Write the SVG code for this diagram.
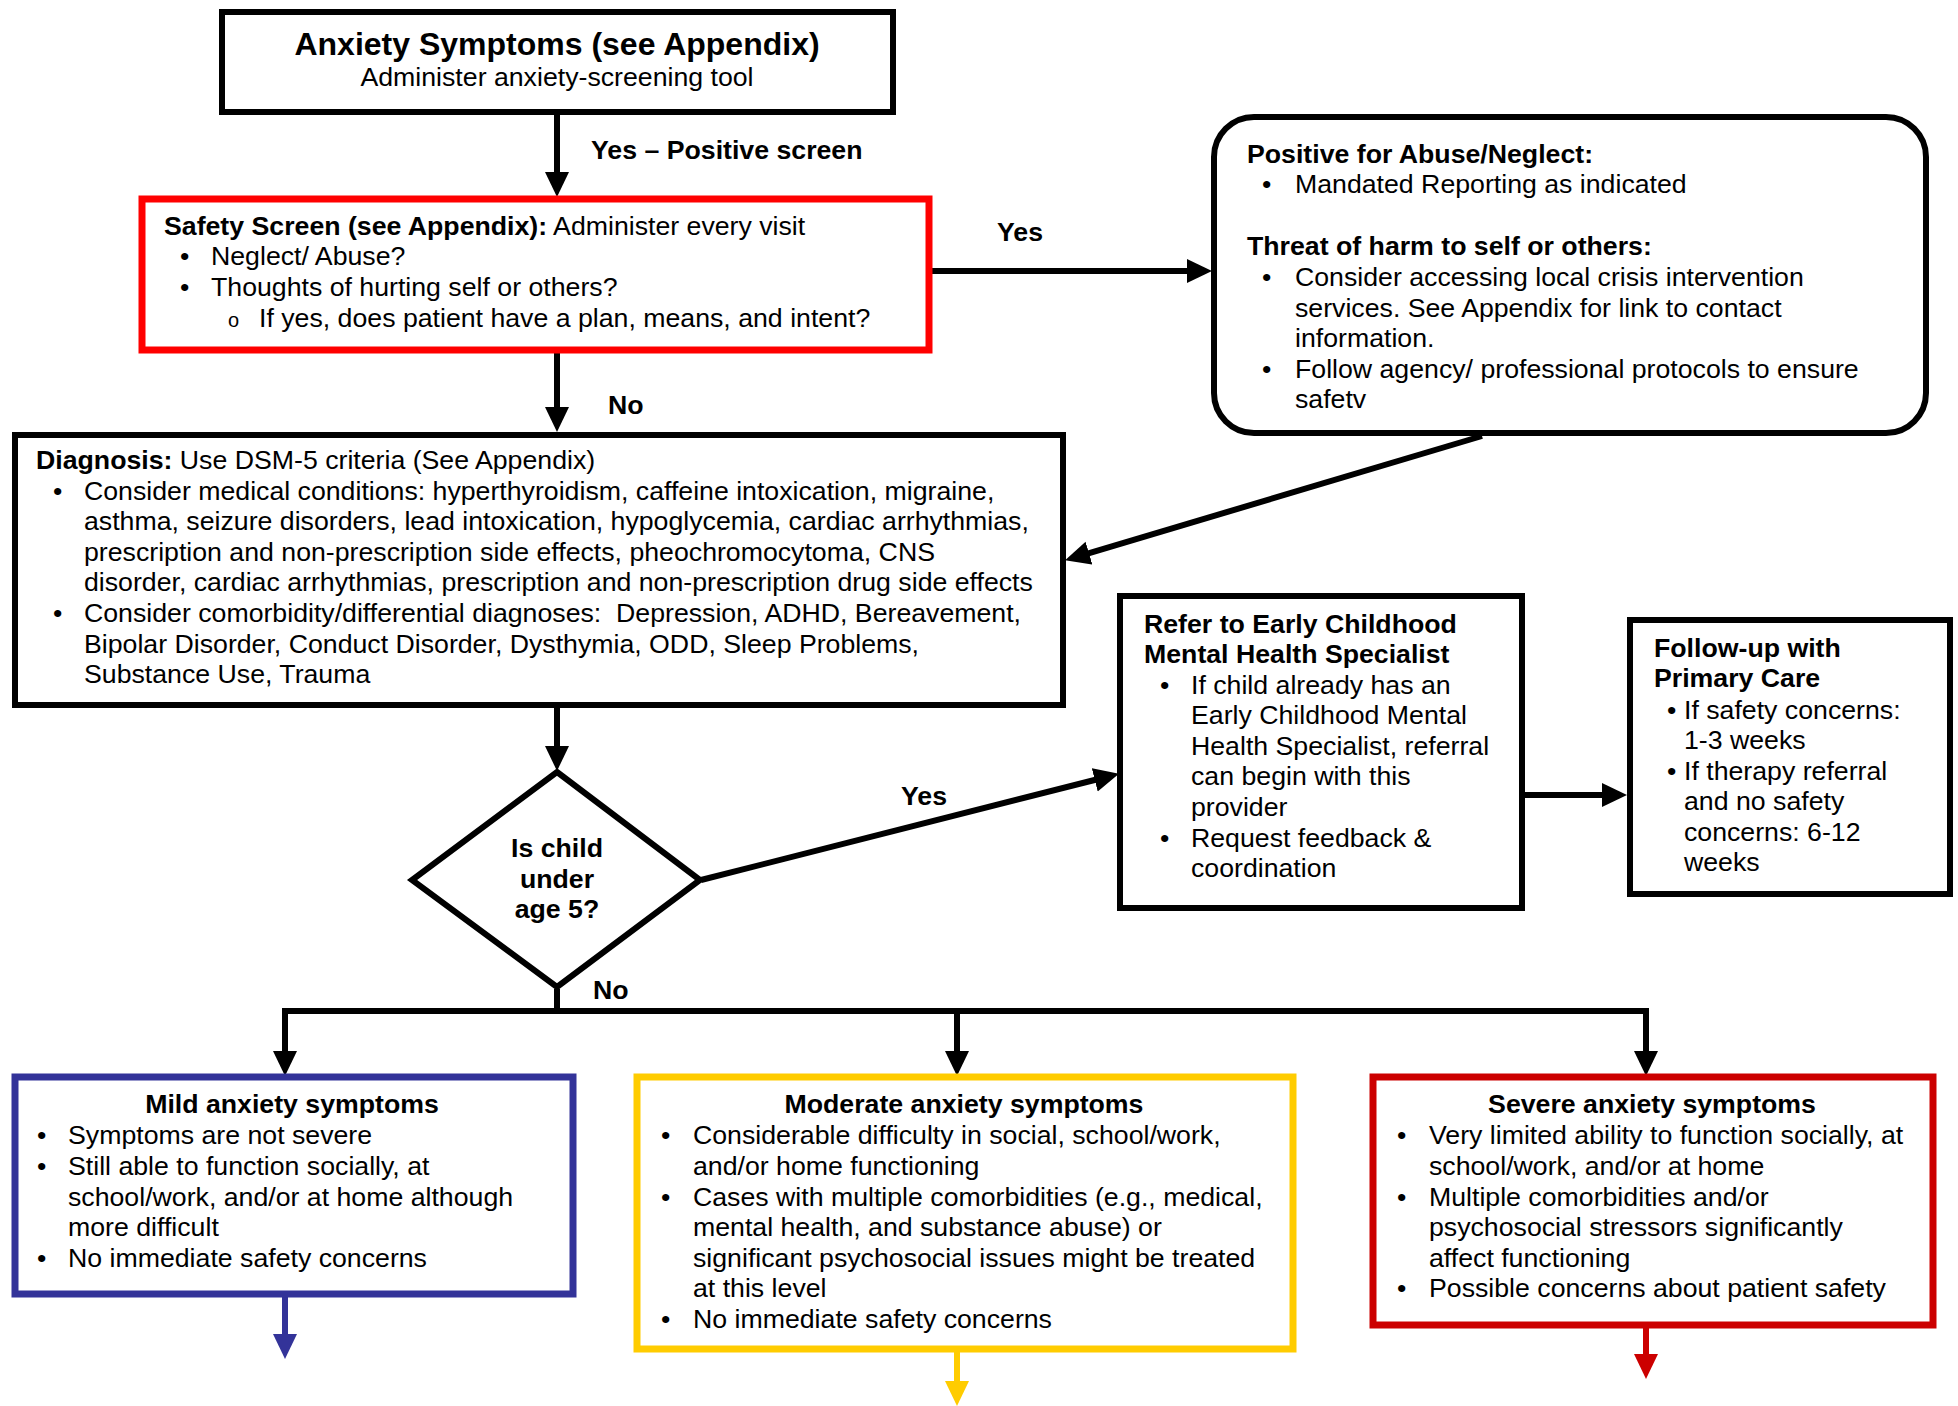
<svg xmlns="http://www.w3.org/2000/svg" width="1958" height="1406" viewBox="0 0 1958 1406">
<style>
text{font-family:"Liberation Sans",Arial,sans-serif;font-size:26.7px;fill:#000}
.b{font-weight:bold}
.t{font-size:32px;font-weight:bold}
.c{text-anchor:middle}
.box{fill:#fff;stroke:#000;stroke-width:6}
.ln{fill:none;stroke:#000;stroke-width:6}
</style>
<defs>
<marker id="ak" markerUnits="userSpaceOnUse" markerWidth="26" markerHeight="26" refX="12" refY="12" orient="auto" viewBox="0 0 26 26"><path d="M0,0 L25,12 L0,24 z" fill="#000"/></marker>
<marker id="ab" markerUnits="userSpaceOnUse" markerWidth="26" markerHeight="26" refX="12" refY="12" orient="auto" viewBox="0 0 26 26"><path d="M0,0 L25,12 L0,24 z" fill="#333399"/></marker>
<marker id="ay" markerUnits="userSpaceOnUse" markerWidth="26" markerHeight="26" refX="12" refY="12" orient="auto" viewBox="0 0 26 26"><path d="M0,0 L25,12 L0,24 z" fill="#FFCC00"/></marker>
<marker id="ar" markerUnits="userSpaceOnUse" markerWidth="26" markerHeight="26" refX="12" refY="12" orient="auto" viewBox="0 0 26 26"><path d="M0,0 L25,12 L0,24 z" fill="#CC0000"/></marker>
</defs>

<g id="connectors">
<line class="ln" x1="557" y1="114" x2="557" y2="184" marker-end="url(#ak)"/>
<line class="ln" x1="929" y1="271" x2="1199" y2="271" marker-end="url(#ak)"/>
<line class="ln" x1="557" y1="351" x2="557" y2="419" marker-end="url(#ak)"/>
<line class="ln" x1="1482" y1="436" x2="1077.5" y2="556.6" marker-end="url(#ak)"/>
<line class="ln" x1="557" y1="706" x2="557" y2="758" marker-end="url(#ak)"/>
<line class="ln" x1="701" y1="880" x2="1106.4" y2="777" marker-end="url(#ak)"/>
<line class="ln" x1="1525" y1="795" x2="1614" y2="795" marker-end="url(#ak)"/>
<line class="ln" x1="557" y1="989" x2="557" y2="1011"/>
<polyline class="ln" points="285,1063 285,1011 1646,1011 1646,1063" marker-end="url(#ak)"/>
<line class="ln" x1="285" y1="1011" x2="285" y2="1063" marker-end="url(#ak)"/>
<line class="ln" x1="957" y1="1011" x2="957" y2="1063" marker-end="url(#ak)"/>
<line fill="none" stroke="#333399" stroke-width="6" x1="285" y1="1294" x2="285" y2="1346" marker-end="url(#ab)"/>
<line fill="none" stroke="#FFCC00" stroke-width="6" x1="957" y1="1349" x2="957" y2="1393" marker-end="url(#ay)"/>
<line fill="none" stroke="#CC0000" stroke-width="6" x1="1646" y1="1325" x2="1646" y2="1366" marker-end="url(#ar)"/>
<text class="b" x="591" y="159">Yes – Positive screen</text>
<text class="b" x="997" y="241">Yes</text>
<text class="b" x="608" y="414">No</text>
<text class="b" x="901" y="805">Yes</text>
<text class="b" x="593" y="999">No</text>
</g>

<g id="anxiety-symptoms">
<rect class="box" x="222" y="12" width="671" height="100"/>
<text class="t c" x="557" y="55">Anxiety Symptoms (see Appendix)</text>
<text class="c" x="557" y="86">Administer anxiety-screening tool</text>
</g>

<g id="safety-screen">
<rect x="142" y="199" width="787" height="151" fill="#fff" stroke="#FF0000" stroke-width="7"/>
<text x="164" y="235"><tspan class="b">Safety Screen (see Appendix):</tspan> Administer every visit</text>
<text x="180" y="265">•</text><text x="211" y="265">Neglect/ Abuse?</text>
<text x="180" y="296">•</text><text x="211" y="296">Thoughts of hurting self or others?</text>
<text x="228" y="327" style="font-size:20px">o</text><text x="259" y="327">If yes, does patient have a plan, means, and intent?</text>
</g>

<g id="positive-abuse">
<rect class="box" x="1214" y="117" width="712" height="316" rx="40" ry="40"/>
<text class="b" x="1247" y="163">Positive for Abuse/Neglect:</text>
<text x="1262" y="193">•</text><text x="1295" y="193">Mandated Reporting as indicated</text>
<text class="b" x="1247" y="255">Threat of harm to self or others:</text>
<text x="1262" y="286">•</text><text x="1295" y="286">Consider accessing local crisis intervention</text>
<text x="1295" y="317">services. See Appendix for link to contact</text>
<text x="1295" y="347">information.</text>
<text x="1262" y="378">•</text><text x="1295" y="378">Follow agency/ professional protocols to ensure</text>
<text x="1295" y="408">safetv</text>
</g>

<g id="diagnosis">
<rect class="box" x="15" y="435" width="1048" height="270"/>
<text x="36" y="469"><tspan class="b">Diagnosis:</tspan> Use DSM-5 criteria (See Appendix)</text>
<text x="53" y="500">•</text><text x="84" y="500">Consider medical conditions: hyperthyroidism, caffeine intoxication, migraine,</text>
<text x="84" y="530">asthma, seizure disorders, lead intoxication, hypoglycemia, cardiac arrhythmias,</text>
<text x="84" y="561">prescription and non-prescription side effects, pheochromocytoma, CNS</text>
<text x="84" y="591">disorder, cardiac arrhythmias, prescription and non-prescription drug side effects</text>
<text x="53" y="622">•</text><text x="84" y="622">Consider comorbidity/differential diagnoses:&#160; Depression, ADHD, Bereavement,</text>
<text x="84" y="653">Bipolar Disorder, Conduct Disorder, Dysthymia, ODD, Sleep Problems,</text>
<text x="84" y="683">Substance Use, Trauma</text>
</g>

<g id="age-decision">
<polygon points="557,772 700,880 557,987 412,880" fill="#fff" stroke="#000" stroke-width="6"/>
<text class="b c" x="557" y="857">Is child</text>
<text class="b c" x="557" y="888">under</text>
<text class="b c" x="557" y="918">age 5?</text>
</g>

<g id="refer-specialist">
<rect class="box" x="1120" y="596" width="402" height="312"/>
<text class="b" x="1144" y="633">Refer to Early Childhood</text>
<text class="b" x="1144" y="663">Mental Health Specialist</text>
<text x="1160" y="694">•</text><text x="1191" y="694">If child already has an</text>
<text x="1191" y="724">Early Childhood Mental</text>
<text x="1191" y="755">Health Specialist, referral</text>
<text x="1191" y="785">can begin with this</text>
<text x="1191" y="816">provider</text>
<text x="1160" y="847">•</text><text x="1191" y="847">Request feedback &amp;</text>
<text x="1191" y="877">coordination</text>
</g>

<g id="follow-up">
<rect class="box" x="1630" y="620" width="320" height="274"/>
<text class="b" x="1654" y="657">Follow-up with</text>
<text class="b" x="1654" y="687">Primary Care</text>
<text x="1667" y="719">•</text><text x="1684" y="719">If safety concerns:</text>
<text x="1684" y="749">1-3 weeks</text>
<text x="1667" y="780">•</text><text x="1684" y="780">If therapy referral</text>
<text x="1684" y="810">and no safety</text>
<text x="1684" y="841">concerns: 6-12</text>
<text x="1684" y="871">weeks</text>
</g>

<g id="mild">
<rect x="15" y="1077" width="558" height="217" fill="#fff" stroke="#333399" stroke-width="7"/>
<text class="b c" x="292" y="1113">Mild anxiety symptoms</text>
<text x="37" y="1144">•</text><text x="68" y="1144">Symptoms are not severe</text>
<text x="37" y="1175">•</text><text x="68" y="1175">Still able to function socially, at</text>
<text x="68" y="1206">school/work, and/or at home although</text>
<text x="68" y="1236">more difficult</text>
<text x="37" y="1267">•</text><text x="68" y="1267">No immediate safety concerns</text>
</g>

<g id="moderate">
<rect x="637" y="1077" width="656" height="272" fill="#fff" stroke="#FFCC00" stroke-width="7"/>
<text class="b c" x="964" y="1113">Moderate anxiety symptoms</text>
<text x="661" y="1144">•</text><text x="693" y="1144">Considerable difficulty in social, school/work,</text>
<text x="693" y="1175">and/or home functioning</text>
<text x="661" y="1206">•</text><text x="693" y="1206">Cases with multiple comorbidities (e.g., medical,</text>
<text x="693" y="1236">mental health, and substance abuse) or</text>
<text x="693" y="1267">significant psychosocial issues might be treated</text>
<text x="693" y="1297">at this level</text>
<text x="661" y="1328">•</text><text x="693" y="1328">No immediate safety concerns</text>
</g>

<g id="severe">
<rect x="1373" y="1077" width="560" height="248" fill="#fff" stroke="#CC0000" stroke-width="7"/>
<text class="b c" x="1652" y="1113">Severe anxiety symptoms</text>
<text x="1397" y="1144">•</text><text x="1429" y="1144">Very limited ability to function socially, at</text>
<text x="1429" y="1175">school/work, and/or at home</text>
<text x="1397" y="1206">•</text><text x="1429" y="1206">Multiple comorbidities and/or</text>
<text x="1429" y="1236">psychosocial stressors significantly</text>
<text x="1429" y="1267">affect functioning</text>
<text x="1397" y="1297">•</text><text x="1429" y="1297">Possible concerns about patient safety</text>
</g>
</svg>
